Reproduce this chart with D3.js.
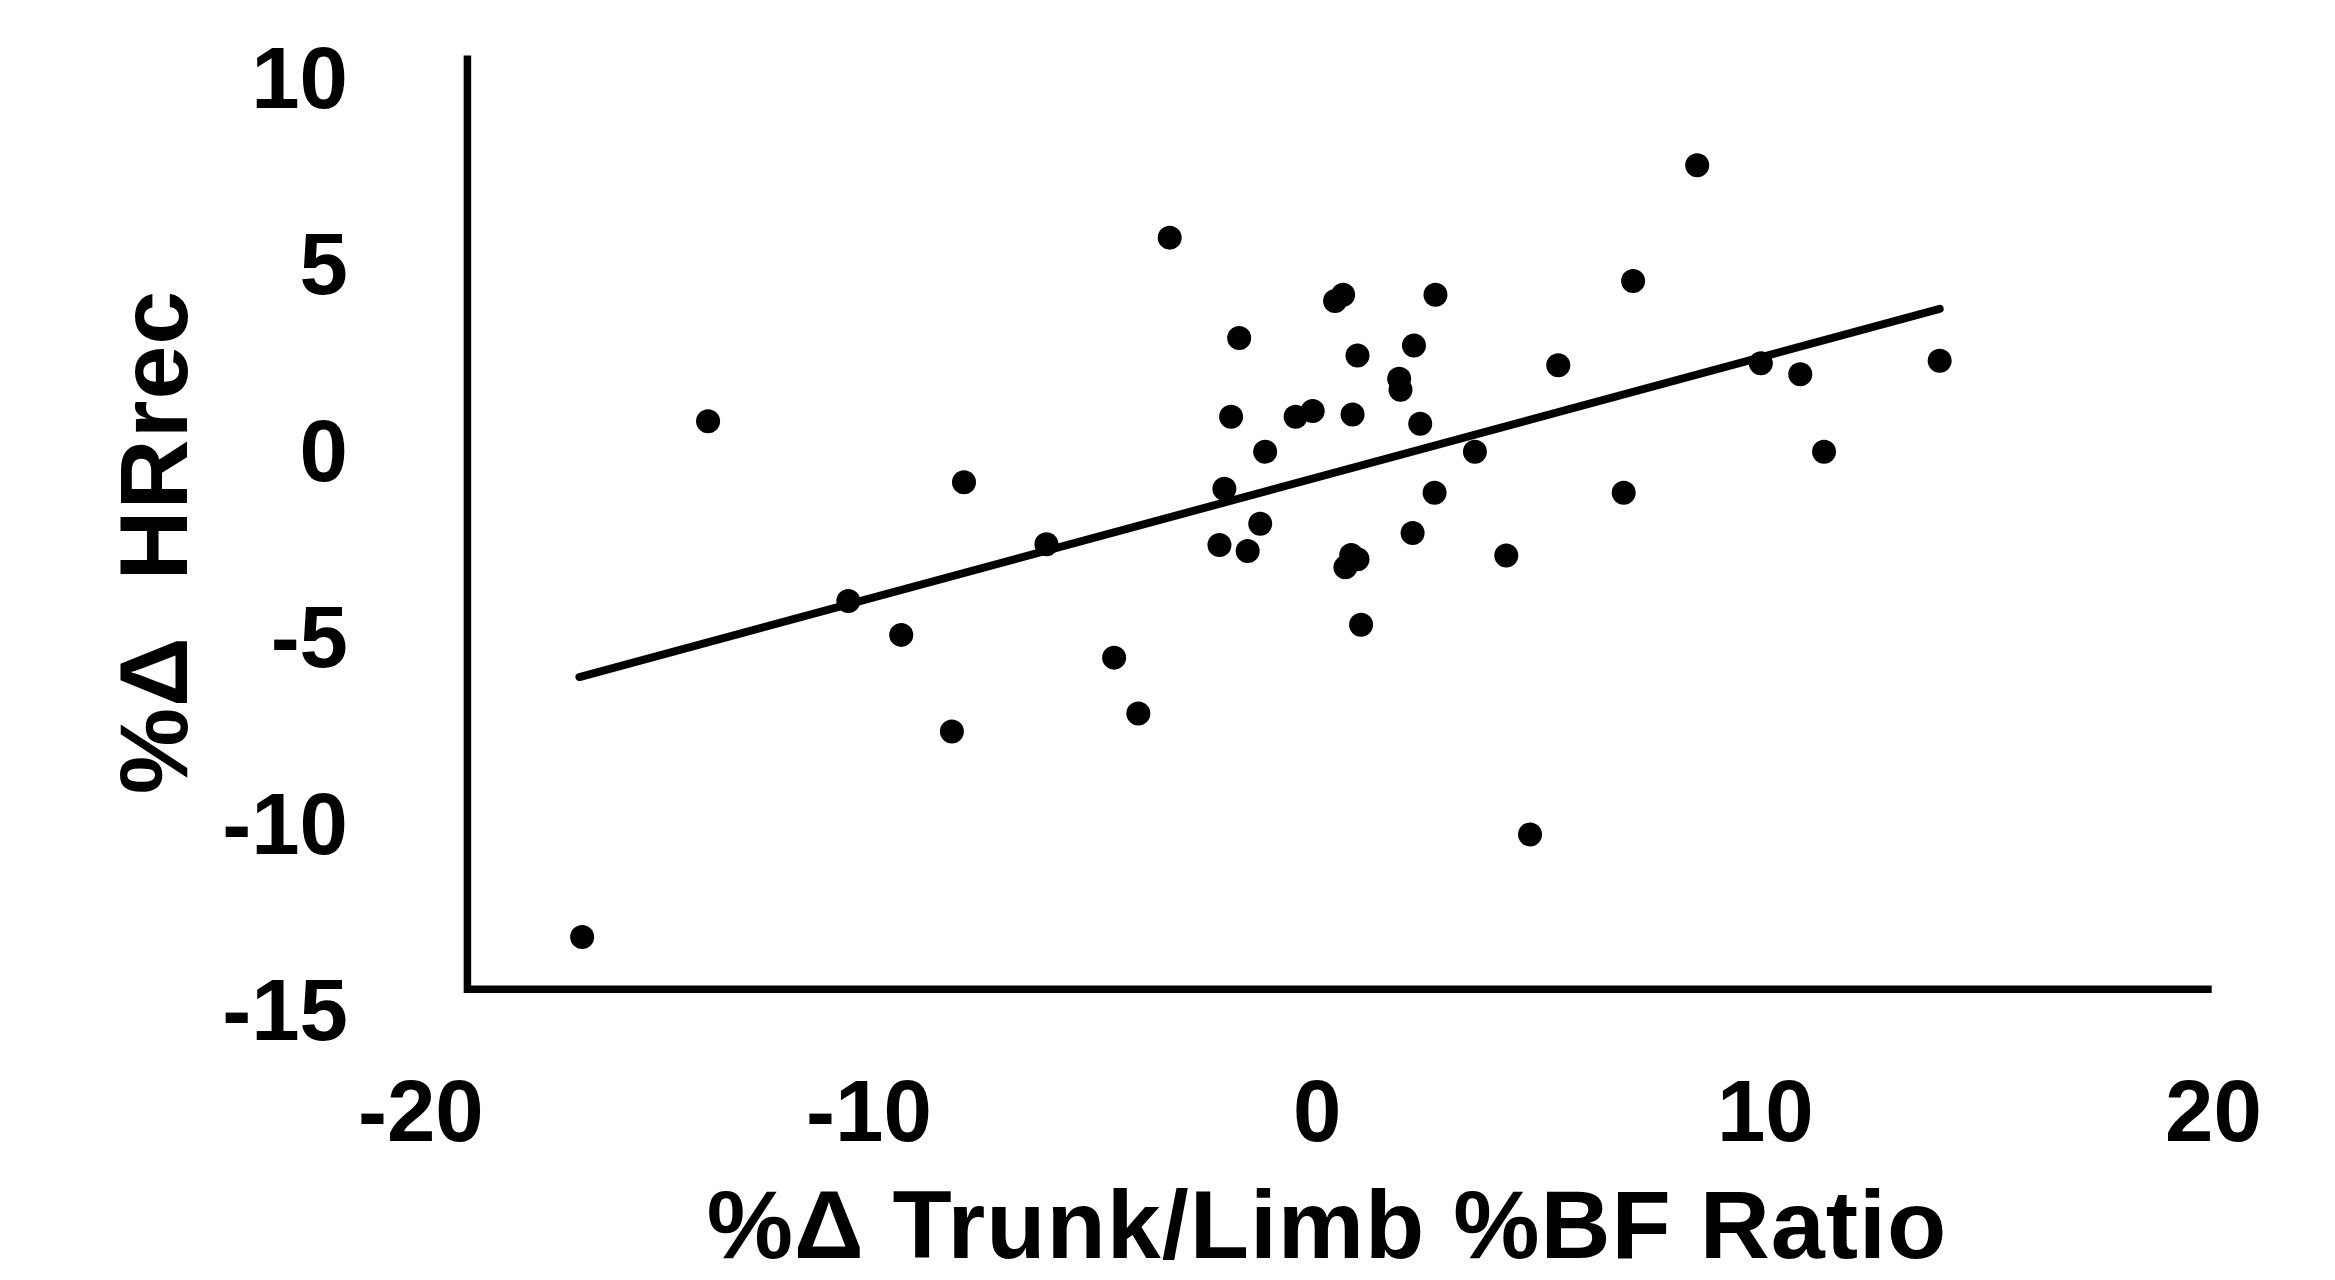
<!DOCTYPE html>
<html>
<head>
<meta charset="utf-8">
<script src="https://cdn.jsdelivr.net/npm/d3@7"></script>
<style>
  html, body { margin: 0; padding: 0; background: #fff; }
  svg { display: block; }
  text { font-family: "Liberation Sans", Arial, sans-serif; font-weight: bold; fill: #000; }
</style>
</head>
<body>
<script>
// ---- data ----
const xValues = [-16.4, -13.59, -10.46, -9.28, -8.15, -7.88, -6.04, -4.53, -3.99, -3.29,
  -2.18, -2.07, -1.92, -1.74, -1.55, -1.27, -1.16, -0.48, -0.10, 0.40,
  0.58, 0.63, 0.76, 0.79, 0.90, 0.90, 0.98, 1.83, 1.86, 2.13,
  2.16, 2.30, 2.62, 2.64, 3.52, 4.22, 4.75, 5.38, 6.84, 7.05,
  8.48, 9.90, 10.78, 11.31, 13.89];
const yValues = [-13.07, 0.76, -4.06, -4.97, -7.56, -0.88, -2.54, -5.58, -7.08, 5.68,
  -2.56, -1.05, 0.88, 2.99, -2.72, -1.99, -0.06, 0.88, 1.03, 3.98,
  4.15, -3.16, -2.83, 0.94, 2.52, -2.94, -4.70, 1.90, 1.60, -2.24,
  2.79, 0.69, -1.16, 4.15, -0.06, -2.84, -10.32, 2.26, -1.16, 4.52,
  7.62, 2.31, 2.02, -0.06, 2.38];
const fitLineX = [-16.46, 13.89];
const fitLineY = [-6.1, 3.77];
const xTicks = [-20, -10, 0, 10, 20];
const yTicks = [10, 5, 0, -5, -10, -15];
const xAxisExtent = [-18.96, 19.96];
const yAxisExtent = [-14.47, 10.56];
const xTitle = "%\u0394 Trunk/Limb %BF Ratio";
const yTitle = "%\u0394\u00a0\u00a0HRrec";

const W = 2335, H = 1280;
const svg = d3.select("body").append("svg").attr("width", W).attr("height", H);

const x = d3.scaleLinear().domain([-20, 20]).range([420.8, 2213.5]);
const y = d3.scaleLinear().domain([-15, 10]).range([1009, 76.5]);

// axis lines
svg.append("line")
  .attr("x1", x(xAxisExtent[0])).attr("x2", x(xAxisExtent[1]))
  .attr("y1", y(yAxisExtent[0])).attr("y2", y(yAxisExtent[0]))
  .attr("stroke", "#000").attr("stroke-width", 7.5);
svg.append("line")
  .attr("x1", x(xAxisExtent[0])).attr("x2", x(xAxisExtent[0]))
  .attr("y1", y(yAxisExtent[0]) + 3.75).attr("y2", y(yAxisExtent[1]))
  .attr("stroke", "#000").attr("stroke-width", 7.5);

// tick labels
svg.append("g").selectAll("text").data(yTicks).join("text")
  .attr("x", 348).attr("y", d => y(d))
  .attr("dy", "0.36em")
  .attr("text-anchor", "end")
  .attr("font-size", 87)
  .text(d => d);

svg.append("g").selectAll("text").data(xTicks).join("text")
  .attr("x", d => x(d)).attr("y", 1141)
  .attr("text-anchor", "middle")
  .attr("font-size", 87)
  .text(d => d);

// regression line
svg.append("line")
  .attr("x1", x(fitLineX[0])).attr("y1", y(fitLineY[0]))
  .attr("x2", x(fitLineX[1])).attr("y2", y(fitLineY[1]))
  .attr("stroke", "#000").attr("stroke-width", 8).attr("stroke-linecap", "round");

// points
svg.append("g").selectAll("circle").data(xValues.map((v, i) => [v, yValues[i]])).join("circle")
  .attr("cx", d => x(d[0])).attr("cy", d => y(d[1]))
  .attr("r", 12).attr("fill", "#000");

// titles
svg.append("text")
  .attr("x", 1327).attr("y", 1258)
  .attr("text-anchor", "middle")
  .attr("font-size", 97)
  .attr("letter-spacing", 1)
  .text(xTitle);

svg.append("text")
  .attr("transform", "translate(187,542) rotate(-90)")
  .attr("text-anchor", "middle")
  .attr("font-size", 97)
  .attr("letter-spacing", 1)
  .text(yTitle);
</script>
</body>
</html>
